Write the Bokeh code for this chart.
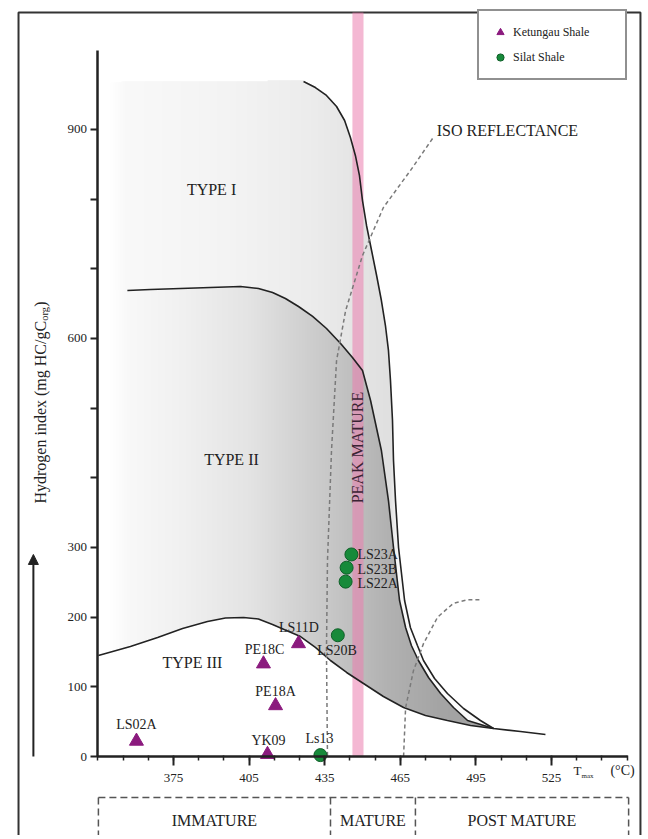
import numpy as np
from bokeh.plotting import figure
from bokeh.models import (Range1d, LinearAxis, FixedTicker, Legend, LegendItem,
                          Arrow, NormalHead, ColumnDataSource)
from bokeh.core.properties import value
from bokeh.embed import file_html
from bokeh.resources import INLINE

FONT = value("Liberation Serif")

# ---------------- data (Tmax in deg C, HI in mg HC/g Corg) ----------------
ket_names = ["LS02A", "YK09", "PE18A", "PE18C", "LS11D"]
ket_tmax = [360.3, 412.3, 415.5, 410.7, 424.6]
ket_hi = [22, 3, 73, 133, 162]

sil_names = ["Ls13", "LS20B", "LS22A", "LS23B", "LS23A"]
sil_tmax = [433.3, 440.2, 443.3, 443.7, 445.6]
sil_hi = [2, 174, 251, 271, 290]

# kerogen type boundary curves
type1_tmax = [426.6, 431.3, 435.7, 439.7, 442.9, 445.2, 447.2, 448.8, 450.0, 451.6,
              453.6, 455.6, 457.5, 459.1, 460.3, 461.1, 461.9, 462.3, 463.1, 464.3,
              466.7, 469.0, 471.8, 474.2, 478.6, 483.7, 490.1, 496.8, 502.0]
type1_hi = [968.9, 960.2, 948.8, 933.0, 912.9, 888.5, 862.4, 833.8, 798.0, 762.2,
            726.3, 690.4, 654.5, 618.6, 582.8, 539.7, 482.3, 424.9, 367.4, 300.0,
            223.9, 185.2, 159.3, 137.8, 112.0, 90.4, 68.9, 51.7, 40.2]
type2_tmax = [356.7, 365.9, 377.8, 389.7, 401.6, 408.7, 414.3, 419.4, 424.6, 430.2,
              435.7, 441.3, 446.0, 450.0, 453.2, 457.5, 460.3, 462.3, 464.7, 467.1,
              469.4, 472.2, 476.2, 481.0, 486.1, 491.7, 502.0]
type2_hi = [668.9, 670.3, 671.7, 673.2, 674.6, 671.7, 666.0, 657.4, 645.9, 631.6,
            614.3, 592.8, 572.7, 554.0, 511.0, 439.2, 367.4, 300.0, 223.9, 185.2,
            159.3, 137.8, 113.4, 90.4, 70.3, 51.7, 40.2]
type3_tmax = [345.2, 357.9, 368.7, 378.6, 388.5, 395.6, 402.8, 408.7, 414.3, 419.8,
              425.4, 431.3, 437.3, 443.7, 450.4, 458.3, 466.3, 475.0, 483.7, 492.9,
              502.0, 512.7, 522.6]
type3_hi = [145.0, 157.9, 170.8, 183.7, 193.8, 198.8, 199.5, 197.4, 189.5, 180.9,
            172.2, 156.5, 137.8, 120.6, 104.8, 86.1, 70.3, 58.8, 51.7, 44.5,
            40.2, 35.9, 31.6]
type_top_hi = 967
type_left_tmax = 350.0

# iso-reflectance dashed curves
iso1_tmax = [477.8, 469.0, 458.3, 450.0, 443.3, 439.7, 437.7, 436.1, 435.7, 436.1]
iso1_hi = [887, 841, 788, 719, 640, 568, 439, 281, 152, 0]
iso2_tmax = [466.3, 467.1, 470.2, 474.2, 479.8, 486.1, 491.7, 496.8]
iso2_hi = [0, 70, 123, 162, 200, 220, 225, 225]

# peak mature window
peak_left, peak_right = 446.0, 450.4

# maturity zones
zone_edges = [345.2, 437.3, 471.0, 555.6]
zone_names = ["IMMATURE", "MATURE", "POST MATURE"]

x_major = [375, 405, 435, 465, 495, 525]
x_minor = list(range(345, 556, 10))
y_major = [0, 100, 200, 300, 400, 500, 600, 700, 800, 900]
y_labels = {400: "", 500: "", 700: "", 800: ""}

# ---------------- figure ----------------
W, H = 644, 835
XPX, YPX = 2.52, 0.6967          # pixels per unit
X0 = 375 - 173 / XPX
Y1 = 756 / YPX
p = figure(width=W, height=H, x_range=Range1d(X0, X0 + W / XPX), y_range=Range1d(Y1 - H / YPX, Y1),
           x_axis_type=None, y_axis_type=None, toolbar_location=None, output_backend="svg",
           min_border=0, min_border_left=0, min_border_right=0, min_border_top=0,
           min_border_bottom=0, outline_line_color=None, title=None)
p.background_fill_color = "white"
p.border_fill_color = "white"

# gradient shading of kerogen fields
T0, T1, H0, H1 = 350.0, 502.5, 28.0, 975.0
nx, ny = 384, 660
Tc = T0 + (np.arange(nx) + 0.5) * (T1 - T0) / nx
Hc = H0 + (np.arange(ny) + 0.5) * (H1 - H0) / ny
bot = np.interp(Tc, type3_tmax, type3_hi)
top1 = np.interp(Tc, [type_left_tmax] + type1_tmax, [type_top_hi] + type1_hi)
top2 = np.interp(Tc, [type_left_tmax] + type2_tmax, [type2_hi[0]] + type2_hi)
g1 = np.interp(Tc, [350, 356, 400, 430, 450, 461, 464, 470],
               [255, 249, 243, 236, 228, 224, 248, 252])
g2 = np.interp(Tc, [350, 358, 380, 405, 425, 441, 460, 480, 502],
               [255, 248, 240, 228, 210, 196, 178, 165, 160])
HH = Hc[:, None]
in1 = (HH > bot[None, :]) & (HH < top1[None, :])
in2 = (HH > bot[None, :]) & (HH < top2[None, :])
gray = np.where(in2, g2[None, :], g1[None, :]).astype(np.uint8)
img = np.zeros((ny, nx), dtype=np.uint32)
view = img.view(dtype=np.uint8).reshape((ny, nx, 4))
view[:, :, 0] = gray
view[:, :, 1] = gray
view[:, :, 2] = gray
view[:, :, 3] = np.where(in1 | in2, 255, 0).astype(np.uint8)
p.image_rgba(image=[img], x=T0, y=H0, dw=T1 - T0, dh=H1 - H0)

# frame border
BL, BR, BT, BB = 313.5, 560.3, 1067.9, -130
p.line([BL, BL, BR, BR], [BB, BT, BT, BB], line_color="#333333", line_width=2)

# peak mature band
p.quad(left=[peak_left], right=[peak_right], bottom=[0], top=[BT],
       fill_color="#eb7eaf", fill_alpha=0.55, line_color=None)
p.text(x=[(peak_left + peak_right) / 2], y=[443.5], text=["PEAK MATURE"], angle=np.pi / 2,
       text_align="center", text_baseline="middle", text_font=FONT,
       text_font_size="16px", text_color="#3a2434")

# curves
p.line(type3_tmax, type3_hi, line_color="#222222", line_width=1.6)
p.line(type2_tmax, type2_hi, line_color="#222222", line_width=1.6)
p.line(type1_tmax, type1_hi, line_color="#222222", line_width=1.6)
p.line(iso1_tmax, iso1_hi, line_color="#7a7a7a", line_width=1.5, line_dash="4 3")
p.line(iso2_tmax, iso2_hi, line_color="#7a7a7a", line_width=1.5, line_dash="4 3")

# axes
xaxis = LinearAxis(fixed_location=0, bounds=(345, 555),
                   ticker=FixedTicker(ticks=x_major, minor_ticks=x_minor))
yaxis = LinearAxis(fixed_location=345, bounds=(0, 1013),
                   ticker=FixedTicker(ticks=y_major), major_label_overrides=y_labels)
for ax in (xaxis, yaxis):
    ax.axis_line_color = "#222222"
    ax.axis_line_width = 2.5
    ax.major_tick_line_color = "#222222"
    ax.major_tick_line_width = 2
    ax.major_tick_in = 0
    ax.major_label_text_font = "Liberation Serif"
    ax.major_label_text_font_size = "13px"
    ax.major_label_text_color = "#222222"
    ax.minor_tick_line_color = "#222222"
xaxis.major_tick_out = 9
xaxis.minor_tick_out = 4
xaxis.minor_tick_in = 1
xaxis.minor_tick_line_width = 1.5
xaxis.major_label_standoff = 8
yaxis.major_tick_out = 7
yaxis.minor_tick_out = 0
yaxis.minor_tick_in = 0
yaxis.major_label_standoff = 4
p.add_layout(xaxis, "below")
p.add_layout(yaxis, "left")

# axis titles
p.text(x=[533.7], y=[-20.1], text=["T"], text_align="left", text_baseline="middle",
       text_font=FONT, text_font_size="13px", text_color="#222222")
p.text(x=[536.9], y=[-28.0], text=["max"], text_align="left", text_baseline="middle",
       text_font=FONT, text_font_size="7px", text_color="#222222")
p.text(x=[553.2], y=[-20.1], text=["(°C)"], text_align="center", text_baseline="middle",
       text_font=FONT, text_font_size="14px", text_color="#222222")
p.text(x=[322.2], y=[363.1], text=["Hydrogen index (mg HC/gC"], angle=np.pi / 2,
       text_align="left", text_baseline="middle", text_font=FONT,
       text_font_size="16px", text_color="#222222")
p.text(x=[323.9], y=[625.5], text=["org"], angle=np.pi / 2,
       text_align="left", text_baseline="middle", text_font=FONT,
       text_font_size="10.5px", text_color="#222222")
p.text(x=[322.2], y=[645.6], text=[")"], angle=np.pi / 2,
       text_align="left", text_baseline="middle", text_font=FONT,
       text_font_size="16px", text_color="#222222")

# vertical arrow at left
p.add_layout(Arrow(end=NormalHead(size=10, fill_color="#222222", line_color="#222222"),
                   x_start=319.4, y_start=0, x_end=319.4, y_end=290,
                   line_color="#222222", line_width=2))

# field labels
def label(x, y, t, size="16px", align="center"):
    p.text(x=[x], y=[y], text=[t], text_align=align, text_baseline="middle",
           text_font=FONT, text_font_size=size, text_color="#222222")

label(390.1, 813.8, "TYPE I")
label(398.0, 426.3, "TYPE II")
label(382.5, 135.0, "TYPE III")
label(507.5, 898.5, "ISO REFLECTANCE")

# maturity zones
zx = [[zone_edges[0], zone_edges[-1]]] + [[e, e] for e in zone_edges]
zy = [[-58.8, -58.8]] + [[-58.8, -130] for _ in zone_edges]
p.multi_line(zx, zy, line_color="#555555", line_width=1.5, line_dash="7 4")
for i, name in enumerate(zone_names):
    label((zone_edges[i] + zone_edges[i + 1]) / 2, -91.9, name)

# data points
ket_src = ColumnDataSource(dict(x=ket_tmax, y=ket_hi, name=ket_names))
sil_src = ColumnDataSource(dict(x=sil_tmax, y=sil_hi, name=sil_names))
tri = p.scatter("x", "y", source=ket_src, marker="triangle", size=14,
                fill_color="#8b1a7e", line_color="#8b1a7e")
cir = p.scatter("x", "y", source=sil_src, marker="circle", size=13,
                fill_color="#178a3a", line_color="#0f5f28", line_width=1)

# point labels
ket_lab = [(360.3, 45.9, "center"), (412.7, 23.0, "center"), (415.5, 93.3, "center"),
           (411.1, 153.6, "center"), (424.8, 185.0, "center")]
sil_lab = [(432.9, 25.8, "center"), (439.9, 152.0, "center"), (448.0, 248.3, "left"),
           (448.0, 268.4, "left"), (448.0, 290.0, "left")]
for (lx, ly, al), n in zip(ket_lab, ket_names):
    label(lx, ly, n, size="14px", align=al)
for (lx, ly, al), n in zip(sil_lab, sil_names):
    label(lx, ly, n, size="14px", align=al)

legend = Legend(items=[LegendItem(label="Ketungau Shale", renderers=[tri]),
                       LegendItem(label="Silat Shale", renderers=[cir])],
                location=(477, H - 80), margin=0, padding=12, spacing=7,
                glyph_width=18, glyph_height=18, label_height=14, label_width=100,
                label_standoff=4, label_text_font="Liberation Serif",
                label_text_font_size="12px", label_text_color="#222222",
                border_line_color="#222222", border_line_width=2,
                background_fill_color="white", background_fill_alpha=1)
p.add_layout(legend)

open("out.html", "w").write(file_html(p, INLINE))
